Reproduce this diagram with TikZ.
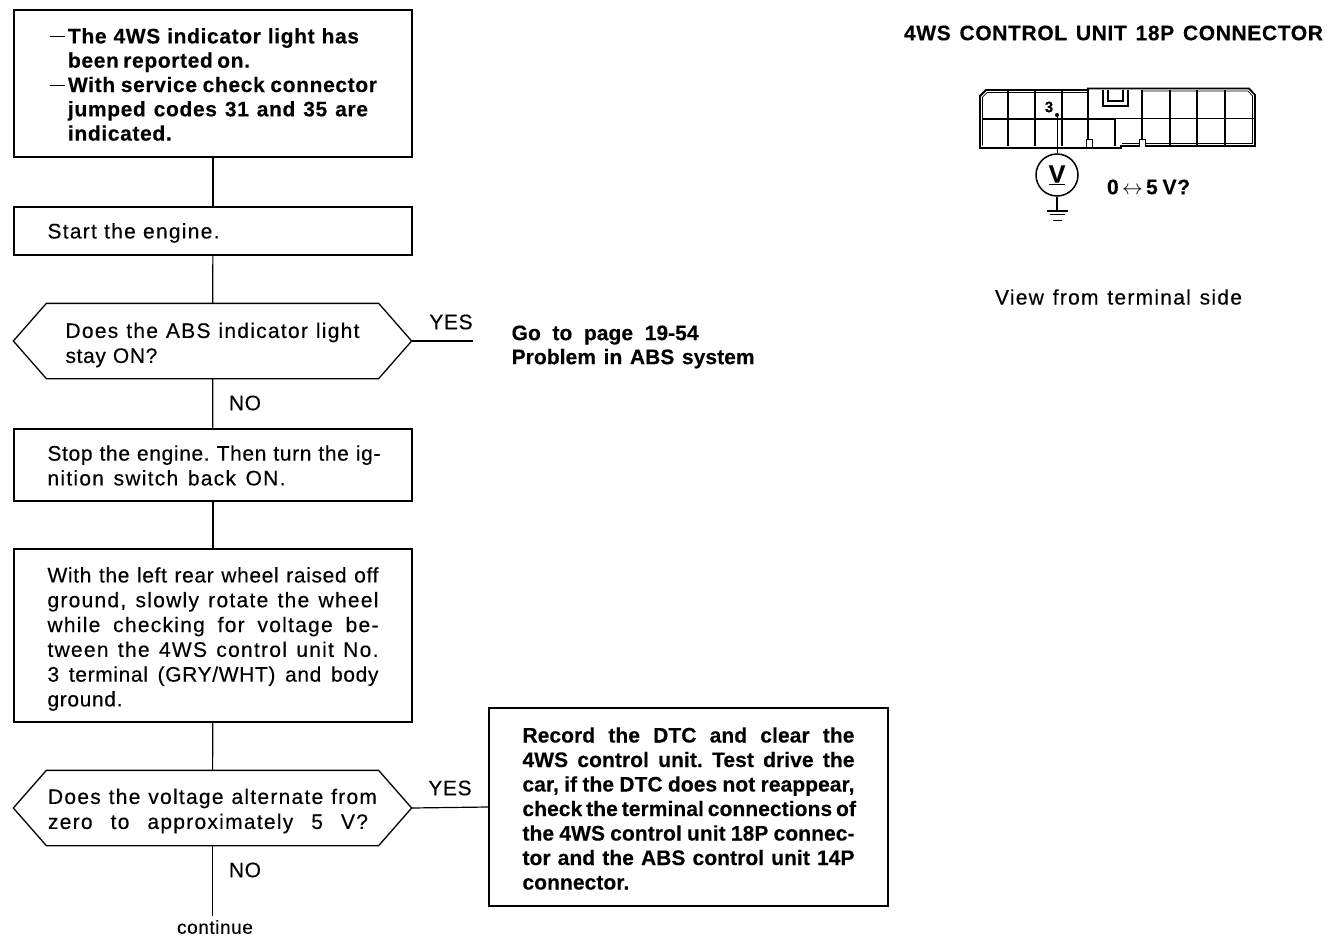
\documentclass[tikz,border=0pt]{standalone}
\usepackage{fontspec}
\setmainfont[LetterSpace=3,FakeBold=0.3,BoldFeatures={LetterSpace=3,FakeBold=0.3}]{Liberation Sans}
\newfontfamily\loosefont[LetterSpace=6,FakeBold=0.3]{Liberation Sans}
\newfontfamily\tightfont[LetterSpace=0.3,FakeBold=0.3]{Liberation Sans Bold}
\usetikzlibrary{calc}

\newcommand{\fitline}[2]{\leavevmode\hbox to #1pt{\frenchspacing\spaceskip=0pt\xspaceskip=0pt #2}}
\newcommand{\looseline}[2]{\fitline{#1}{\loosefont #2}}
\newcommand{\dashitem}{\hspace*{2.5pt}\makebox[18pt][l]{\rule[6pt]{15pt}{1.4pt}}}

\begin{document}
\begin{tikzpicture}[x=1pt, y=-1pt, line width=1.3pt]

  % Styles
  \tikzset{
    stepbox/.style={draw, rectangle, inner sep=0pt, text width=331pt, minimum width=398pt,
      align=left, font=\fontsize{21}{24.8}\selectfont},
    decision/.style={rectangle, inner sep=0pt, minimum width=397pt, minimum height=74pt,
      align=left, font=\fontsize{21}{25}\selectfont},
    nudge/.style={execute at begin node={\vadjust pre{\kern#1\relax}}},
    flag/.style={font=\fontsize{21}{25}\selectfont},
    note/.style={align=left, inner sep=0pt, font=\fontsize{21}{24}\selectfont\tightfont},
    plain line/.style={line width=1.2pt}
  }

  \useasboundingbox (0,0) rectangle (1344,952);

  % --- FLOW BOXES ---
  \node[stepbox, nudge=2pt, minimum height=147pt, font=\fontsize{21}{24.3}\selectfont\bfseries] (reported) at (213,83.5) {%
    \dashitem\fitline{291}{The 4WS indicator light has}\\
    \hspace*{20.5pt}\fitline{182}{been reported on.}\\
    \dashitem\fitline{309}{With service check connector}\\
    \hspace*{20.5pt}\fitline{300}{jumped codes 31 and 35 are}\\
    \hspace*{20.5pt}indicated.};
  \node[stepbox, nudge=4pt, minimum height=48pt] (start) at (213,231) {\looseline{172}{Start the engine.}};
  \node[decision, nudge=8pt, text width=294pt] (abs) at (212.5,341) {\looseline{294}{Does the ABS indicator light}\\stay ON?};
  \node[stepbox, nudge=1pt, minimum height=72pt] (stop) at (213,465) {%
    \fitline{333}{Stop the engine. Then turn the ig-}\\
    \looseline{238}{nition switch back ON.}};
  \node[stepbox, nudge=7pt, minimum height=173pt] (check) at (213,635.5) {%
    \fitline{331}{With the left rear wheel raised off}\\
    \looseline{331}{ground, slowly rotate the wheel}\\
    \looseline{331}{while checking for voltage be-}\\
    \looseline{331}{tween the 4WS control unit No.}\\
    \fitline{331}{3 terminal (GRY/WHT) and body}\\
    ground.};
  \node[decision, nudge=6pt, text width=329pt] (alternate) at (212.5,808) {%
    \looseline{329}{Does the voltage alternate from}\\
    \looseline{320}{zero to approximately 5 V?}};
  \node[stepbox, nudge=3pt, text width=332pt, minimum width=399pt, minimum height=198pt,
    font=\fontsize{21}{24.5}\selectfont\tightfont] (record) at (688.5,807) {%
    \fitline{332}{Record the DTC and clear the}\\
    \fitline{332}{4WS control unit. Test drive the}\\
    \fitline{332}{car, if the DTC does not reappear,}\\
    \fitline{332}{check the terminal connections of}\\
    \fitline{332}{the 4WS control unit 18P connec-}\\
    \fitline{332}{tor and the ABS control unit 14P}\\
    connector.};

  % Decision outlines
  \foreach \name in {abs,alternate}
    \draw (\name.west) -- ([xshift=33pt]\name.north west) -- ([xshift=-33pt]\name.north east)
      -- (\name.east) -- ([xshift=-33pt]\name.south east) -- ([xshift=33pt]\name.south west) -- cycle;

  % --- LABELS ---
  \node[flag] (yesabs) at (451,322) {YES};
  \node[flag] (noabs) at (245,403) {NO};
  \node[flag] (yesalt) at (450,788) {YES};
  \node[flag] (noalt) at (245,870) {NO};
  \node[font=\fontsize{19}{20}\selectfont] (continue) at (215,927) {continue};
  \node[note, anchor=west] (goto) at (511,347) {\fitline{187}{Go to page 19-54}\\\fitline{243}{Problem in ABS system}};
  \coordinate (yesend) at (473,341);

  % --- CONNECTIONS ---
  \draw[plain line] (reported) -- (start);
  \draw[plain line] (start) -- (abs);
  \draw[plain line] (abs) -- (stop);
  \draw[plain line] (stop) -- (check);
  \draw[plain line] (check) -- (alternate);
  \draw[plain line] (abs.east) -- (yesend);
  \draw[plain line] (alternate.east) -- (record.west);
  \draw[plain line] (alternate.south) -- (alternate.south |- continue.north);

  % --- CONNECTOR VIEW ---
  \node[font=\fontsize{21}{24}\selectfont\bfseries, inner sep=0pt] (title) at (1113.5,33) {\fitline{419}{4WS CONTROL UNIT 18P CONNECTOR}};
  \node[font=\fontsize{21}{24}\selectfont, inner sep=0pt] (view) at (1118.5,297) {\looseline{247}{View from terminal side}};

  % Housing outline
  \draw[line width=1.8pt] (980,148) -- (980,96) -- (986,90) -- (1088,90) -- (1088,88.5) -- (1249,88.5)
    -- (1255,95) -- (1255,146) -- (1121,146) -- (1121,148) -- cycle;
  \draw[line width=0.7pt] (982.5,145.5) -- (982.5,97) -- (987,92.5) -- (1087,92.5);
  \draw[line width=0.7pt] (1143,91) -- (1248,91) -- (1252.5,96) -- (1252.5,143.5) -- (1122,143.5);

  % Cavities
  \draw[line width=1.5pt] (982,119) -- (1115,119);
  \draw[line width=1pt] (1115,118.5) -- (1254,118.5);
  \foreach \x in {1008,1035,1062,1088,1142,1170,1197,1225}
    \draw[line width=1.1pt] (\x,90) -- (\x,146);
  \draw[line width=1.5pt] (1115,119) -- (1115,146);

  % Key and tabs
  \draw[line width=1.1pt] (1103,90) -- (1103,106) -- (1128,106) -- (1128,90);
  \draw[line width=1.1pt] (1108,90) -- (1108,101) -- (1123,101) -- (1123,90);
  \foreach \x in {1086,1139}
    \draw[fill=white, line width=1pt] (\x,147) -- (\x,140) -- (\x+6,140) -- (\x+6,147);

  % Meter
  \node[font=\fontsize{15}{16}\selectfont\bfseries, inner sep=0pt] (pin) at (1049,107) {3};
  \coordinate (probe) at (1057,115);
  \fill (probe) circle (2pt);
  \node[draw, circle, minimum size=42pt, inner sep=0pt, fill=white, line width=1.5pt,
    font=\fontsize{25}{26}\selectfont\bfseries] (meter) at (1057,175) {\underline{V}};
  \coordinate (earth) at (1057,211);
  \draw[line width=0.8pt] (probe) -- (meter);
  \draw[line width=1.2pt] (meter) -- (earth);
  \draw[line width=1.2pt] (1047,211) -- (1068,211);
  \draw[line width=1pt] (1050,215) -- (1065,215);
  \draw[line width=0.8pt] (1053,220) -- (1062,220);
  \node[font=\fontsize{21}{24}\selectfont\bfseries, inner sep=0pt] (volts) at (1148.5,187) {\fitline{83}{0{\fontsize{20}{14}\selectfont\,$\leftrightarrow$\,}5 V?}};

\end{tikzpicture}
\end{document}
